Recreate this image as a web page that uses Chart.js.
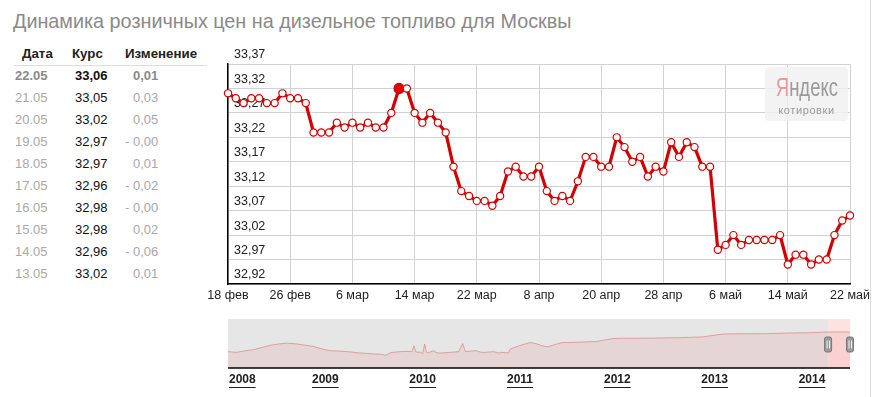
<!DOCTYPE html>
<html><head><meta charset="utf-8">
<script src="https://cdn.jsdelivr.net/npm/chart.js@4/dist/chart.umd.min.js"></script>
<style>
html,body{margin:0;padding:0;background:#fff;}
body{width:876px;height:397px;position:relative;overflow:hidden;font-family:"Liberation Sans",Arial,sans-serif;}
.abs{position:absolute;white-space:nowrap;}
</style></head><body>
<div id="title" class="abs" style="left:13px;top:9px;font-size:19.8px;line-height:24px;color:#8a8a8a;"></div>
<div id="table"></div>
<canvas id="main" class="abs" width="876" height="310" style="left:0;top:0;width:876px;height:310px;"></canvas>
<canvas id="nav" class="abs" width="876" height="87" style="left:0;top:310px;width:876px;height:87px;"></canvas>
<div id="logo" class="abs" style="left:765px;top:67px;width:83px;height:54px;background:rgba(240,240,240,0.82);border-radius:4px;text-align:center;">
  <div id="logoMain" style="font-size:25px;line-height:26px;margin-top:7px;color:#9a9a9a;transform:scaleX(0.74);transform-origin:50% 50%;"></div>
  <div id="logoSub" style="font-size:11px;line-height:14px;color:#9a9a9a;letter-spacing:0.6px;margin-top:3px;"></div>
</div>
<div class="abs" style="left:870px;top:0;width:1px;height:397px;background:#dcdcdc;"></div>
<script>
// ---------- data ----------
const titleText = 'Динамика розничных цен на дизельное топливо для Москвы';
const tableHeader = ['Дата', 'Курс', 'Изменение'];
const tableDates = ['22.05','21.05','20.05','19.05','18.05','17.05','16.05','15.05','14.05','13.05'];
const tableRates = ['33,06','33,05','33,02','32,97','32,97','32,96','32,98','32,98','32,96','33,02'];
const tableChanges = ['0,01','0,03','0,05','- 0,00','0,01','- 0,02','- 0,00','0,02','- 0,06','0,01'];

const xTickLabels = ['18 фев','26 фев','6 мар','14 мар','22 мар','8 апр','20 апр','28 апр','6 май','14 май','22 май'];
const yTicks = [32.92, 32.97, 33.02, 33.07, 33.12, 33.17, 33.22, 33.27, 33.32, 33.37];
const prices = [
  33.31, 33.30, 33.29, 33.30, 33.30, 33.29, 33.29, 33.31, 33.30, 33.30,
  33.29, 33.23, 33.23, 33.23, 33.25, 33.24, 33.25, 33.24, 33.25, 33.24,
  33.24, 33.27, 33.32, 33.32, 33.27, 33.25, 33.27, 33.25, 33.23, 33.16,
  33.11, 33.10, 33.09, 33.09, 33.08, 33.10, 33.15, 33.16, 33.14, 33.14,
  33.16, 33.11, 33.09, 33.10, 33.09, 33.13, 33.18, 33.18, 33.16, 33.16,
  33.22, 33.20, 33.17, 33.18, 33.14, 33.16, 33.15, 33.21, 33.18, 33.21,
  33.20, 33.16, 33.16, 32.99, 33.00, 33.02, 33.00, 33.01, 33.01, 33.01,
  33.01, 33.02, 32.96, 32.98, 32.98, 32.96, 32.97, 32.97, 33.02, 33.05,
  33.06
];

// navigator (history overview)
const navYearLabels = [2008, 2009, 2010, 2011, 2012, 2013, 2014];
const navYears = [
  2008.00, 2008.09, 2008.18, 2008.26, 2008.35, 2008.44, 2008.53, 2008.61, 2008.70, 2008.79,
  2008.88, 2008.97, 2009.05, 2009.14, 2009.23, 2009.32, 2009.41, 2009.49, 2009.58, 2009.62,
  2009.67, 2009.76, 2009.84, 2009.89, 2009.91, 2009.93, 2009.98, 2010.00, 2010.02, 2010.04,
  2010.06, 2010.11, 2010.15, 2010.20, 2010.28, 2010.37, 2010.41, 2010.44, 2010.50, 2010.55,
  2010.60, 2010.64, 2010.73, 2010.78, 2010.81, 2010.88, 2010.90, 2010.99, 2011.10, 2011.16,
  2011.25, 2011.29, 2011.34, 2011.43, 2011.51, 2011.60, 2011.69, 2011.78, 2011.86, 2011.95,
  2012.04, 2012.22, 2012.44, 2012.66, 2012.87, 2013.01, 2013.09, 2013.31, 2013.53, 2013.75,
  2013.97, 2014.15, 2014.32, 2014.39
];
const navValues = [
  21.0, 20.6, 21.6, 22.2, 23.6, 25.0, 25.8, 26.2, 25.8, 25.0,
  24.2, 22.6, 21.6, 21.4, 21.0, 20.4, 20.0, 19.6, 19.4, 18.8,
  20.4, 21.0, 21.2, 21.0, 24.6, 20.8, 20.6, 19.8, 25.6, 20.6,
  20.4, 21.6, 20.2, 20.2, 20.6, 21.0, 26.0, 21.0, 21.4, 21.6,
  20.6, 20.6, 21.0, 20.2, 20.6, 20.2, 22.6, 24.6, 26.6, 26.0,
  24.2, 24.0, 25.0, 26.6, 26.6, 26.8, 27.0, 27.2, 28.0, 29.0,
  29.2, 29.2, 29.4, 29.6, 30.0, 31.2, 31.8, 32.0, 32.0, 32.4,
  32.6, 33.0, 33.1, 33.0
];
const navSelection = [2014.165, 2014.39];

// ---------- text parts ----------
document.getElementById('title').textContent = titleText;
document.getElementById('logoMain').innerHTML = '<span style="color:#e89a9a">Я</span>ндекс';
document.getElementById('logoSub').textContent = 'котировки';

const tbl = document.getElementById('table');
let html = '';
const hx = [22, 72, 125];
tableHeader.forEach((h, i) => {
  html += `<div class="abs" style="left:${hx[i]}px;top:46px;font-size:13.3px;line-height:16px;font-weight:bold;color:#222;">${h}</div>`;
});
html += '<div class="abs" style="left:14px;top:65px;width:193px;height:1px;background:#dcdcdc;"></div>';
tableDates.forEach((d, i) => {
  const cy = 76 + i * 22.03;
  const top = (cy - 8).toFixed(1);
  const first = i === 0;
  const fw = first ? 'bold' : 'normal';
  const gray = first ? '#8a8a8a' : '#a8a8a8';
  const ch = tableChanges[i];
  const neg = ch.trim().startsWith('-');
  const num = ch.replace(/^-\s*/, '');
  html += `<div class="abs" style="left:15px;top:${top}px;font-size:13px;line-height:16px;font-weight:${fw};color:${gray};">${d}</div>`;
  html += `<div class="abs" style="left:75px;top:${top}px;font-size:13px;line-height:16px;font-weight:${fw};color:#111;">${tableRates[i]}</div>`;
  html += `<div class="abs" style="left:133px;top:${top}px;font-size:13px;line-height:16px;font-weight:${fw};color:${gray};">` +
          (neg ? '<span style="position:absolute;right:100%;top:0;">-&nbsp;</span>' : '') + num + '</div>';
});
tbl.innerHTML = html;

// ---------- main chart ----------
const FONT = '"Liberation Sans", Arial, sans-serif';
const maxIdx = prices.indexOf(Math.max(...prices));
const step = (prices.length - 1) / (xTickLabels.length - 1);
const lineColor = '#d20000';

const yLabelPlugin = {
  id: 'yLabels',
  beforeDatasetsDraw(chart) {
    const { ctx, chartArea, scales } = chart;
    ctx.save();
    ctx.font = '12.5px ' + FONT;
    ctx.fillStyle = '#222';
    ctx.textAlign = 'left';
    ctx.textBaseline = 'middle';
    yTicks.forEach(v => {
      const y = scales.y.getPixelForValue(v);
      ctx.fillText(v.toFixed(2).replace('.', ','), chartArea.left + 6, y - 9);
    });
    ctx.restore();
  }
};

new Chart(document.getElementById('main'), {
  type: 'line',
  data: {
    labels: prices.map((_, i) => i),
    datasets: [{
      data: prices,
      borderColor: lineColor,
      borderWidth: 3.2,
      tension: 0,
      pointRadius: c => c.dataIndex === maxIdx ? 5 : 3.6,
      pointBackgroundColor: c => c.dataIndex === maxIdx ? '#e60000' : '#ffffff',
      pointBorderColor: lineColor,
      pointBorderWidth: 1.2
    }]
  },
  options: {
    responsive: false,
    animation: false,
    devicePixelRatio: 1,
    layout: { padding: { left: 228, right: 26, top: 64, bottom: 0 } },
    plugins: { legend: { display: false }, tooltip: { enabled: false } },
    scales: {
      x: {
        type: 'category',
        offset: false,
        grid: { color: '#d2d2d2', lineWidth: 1, drawTicks: false },
        border: { color: '#000', width: 1.5 },
        ticks: {
          autoSkip: false, maxRotation: 0, padding: 4,
          color: '#222', font: { family: FONT, size: 12.5 },
          callback: (v, i) => (i % step === 0 ? xTickLabels[i / step] : null)
        },
        afterFit: s => { s.height = 26; }
      },
      y: {
        type: 'linear',
        min: yTicks[0],
        max: yTicks[yTicks.length - 1],
        afterBuildTicks: s => { s.ticks = yTicks.map(v => ({ value: v })); },
        grid: { color: '#d2d2d2', lineWidth: 1, drawTicks: false },
        border: { color: '#000', width: 1.5 },
        ticks: { display: false },
        afterFit: s => { s.width = 0; }
      }
    }
  },
  plugins: [yLabelPlugin]
});

// ---------- navigator ----------
const navPlugin = {
  id: 'navDeco',
  beforeDatasetsDraw(chart) {
    const { ctx, chartArea: a, scales } = chart;
    const sx = scales.x.getPixelForValue(navSelection[0]);
    ctx.save();
    ctx.fillStyle = '#e6e6e6';
    ctx.fillRect(a.left, a.top, sx - a.left, a.bottom - a.top);
    ctx.fillStyle = '#fde2e2';
    ctx.fillRect(sx, a.top, a.right - sx, a.bottom - a.top);
    ctx.restore();
  },
  afterDatasetsDraw(chart) {
    const { ctx, chartArea: a, scales } = chart;
    ctx.save();
    ctx.strokeStyle = '#000';
    ctx.lineWidth = 1.5;
    ctx.beginPath();
    ctx.moveTo(a.left, a.bottom);
    ctx.lineTo(a.right, a.bottom);
    ctx.stroke();
    navSelection.forEach(v => {
      const x = Math.min(scales.x.getPixelForValue(v), a.right);
      const yc = (a.top + a.bottom) / 2 + 1;
      ctx.fillStyle = '#9a9a9a';
      ctx.strokeStyle = '#777';
      ctx.lineWidth = 1;
      const w = 7, h = 15;
      ctx.beginPath();
      ctx.roundRect(x - w / 2, yc - h / 2, w, h, 2);
      ctx.fill();
      ctx.stroke();
      ctx.strokeStyle = '#f4f4f4';
      ctx.beginPath();
      ctx.moveTo(x - 1, yc - 4); ctx.lineTo(x - 1, yc + 4);
      ctx.moveTo(x + 1.5, yc - 4); ctx.lineTo(x + 1.5, yc + 4);
      ctx.stroke();
    });
    ctx.font = 'bold 12px ' + FONT;
    ctx.fillStyle = '#222';
    ctx.strokeStyle = '#222';
    ctx.lineWidth = 1;
    ctx.textBaseline = 'middle';
    navYearLabels.forEach(yr => {
      const t = String(yr);
      const w = ctx.measureText(t).width;
      let x = scales.x.getPixelForValue(yr) - w / 2;
      if (x < a.left + 1) x = a.left + 1;
      const y = a.bottom + 12;
      ctx.fillText(t, x, y);
      ctx.beginPath();
      ctx.moveTo(x, y + 7.5);
      ctx.lineTo(x + w, y + 7.5);
      ctx.stroke();
    });
    ctx.restore();
  }
};

new Chart(document.getElementById('nav'), {
  type: 'line',
  data: {
    datasets: [{
      data: navYears.map((x, i) => ({ x: x, y: navValues[i] })),
      borderColor: 'rgba(214,110,110,0.55)',
      backgroundColor: 'rgba(220,90,90,0.12)',
      borderWidth: 1,
      fill: 'start',
      pointRadius: 0,
      tension: 0
    }]
  },
  options: {
    responsive: false,
    animation: false,
    devicePixelRatio: 1,
    layout: { padding: { left: 228, right: 26, top: 9, bottom: 29 } },
    plugins: { legend: { display: false }, tooltip: { enabled: false } },
    scales: {
      x: { type: 'linear', min: navYears[0], max: navYears[navYears.length - 1], display: false },
      y: { type: 'linear', min: 11, max: 41, display: false }
    }
  },
  plugins: [navPlugin]
});
</script>
</body></html>
